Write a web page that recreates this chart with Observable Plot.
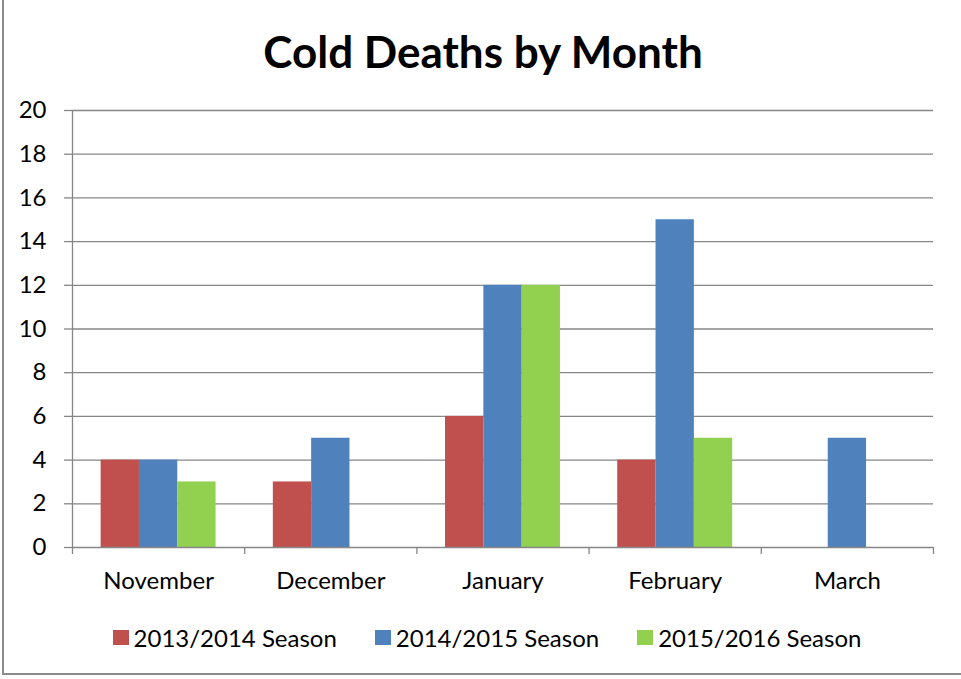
<!DOCTYPE html>
<html>
<head>
<meta charset="utf-8">
<script src="https://cdn.jsdelivr.net/npm/d3@7"></script>
<script src="https://cdn.jsdelivr.net/npm/@observablehq/plot@0.6"></script>
<style>
  html, body { margin: 0; padding: 0; background: #fff; }
  #frame { position: relative; width: 961px; height: 679px; overflow: hidden; font-family: Lato, sans-serif; }
  #border { position: absolute; left: 2px; top: -5px; width: 990px; height: 680px; border-left: 2px solid #8c8c8c; border-bottom: 2px solid #8c8c8c; box-sizing: border-box; }
  #title { position: absolute; left: 0; width: 966px; top: 25px; text-align: center; font-weight: bold; font-size: 44px; line-height: 52px; color: #000; }
  #chart { position: absolute; left: 0; top: 0; }
  #legend { position: absolute; left: 0; width: 974px; top: 623px; display: flex; justify-content: center; gap: 38px; font-size: 24px; line-height: 29px; color: #000; }
  .item { display: flex; align-items: center; gap: 5px; }
  .sw { width: 16px; height: 15px; display: inline-block; }
</style>
</head>
<body>
<div id="frame">
  <div id="border"></div>
  <div id="title">Cold Deaths by Month</div>
  <div id="chart"></div>
  <div id="legend"></div>
</div>
<script>
const months = ["November", "December", "January", "February", "March"];
const seasons = ["2013/2014 Season", "2014/2015 Season", "2015/2016 Season"];
const season2013 = [4, 3, 6, 4, null];
const season2014 = [4, 5, 12, 15, 5];
const season2015 = [3, null, 12, 5, null];
const colors = ["#C0504D", "#4F81BD", "#92D050"];
const yTicks = [0, 2, 4, 6, 8, 10, 12, 14, 16, 18, 20];

const seriesValues = [season2013, season2014, season2015];
const rows = [];
months.forEach((m, i) => {
  seriesValues.forEach((vals, j) => {
    if (vals[i] != null) rows.push({month: m, i, j, season: seasons[j], value: vals[i]});
  });
});

const barW = 0.2225;
const groupOff = 0.5 - 1.5 * barW;
const boundaries = d3.range(0, months.length + 1);
const centers = months.map((m, i) => i + 0.5);
const grid = "#868686";

const chart = Plot.plot({
  width: 961,
  height: 679,
  marginLeft: 72,
  marginRight: 28,
  marginTop: 110,
  marginBottom: 132,
  style: {fontFamily: "Lato, sans-serif", fontSize: "24px", color: "#000", background: "transparent"},
  x: {type: "linear", domain: [0, months.length], axis: null},
  y: {domain: [0, 20], axis: null},
  color: {domain: seasons, range: colors},
  marks: [
    Plot.gridY(yTicks.filter(d => d > 0), {stroke: grid, strokeOpacity: 1, strokeWidth: 1.3}),
    Plot.axisY(yTicks, {tickSize: 8, tickPadding: 18, stroke: grid, strokeWidth: 1.3, fill: "#000", label: null, fontSize: 24}),
    Plot.rectY(rows, {
      x1: d => d.i + groupOff + d.j * barW,
      x2: d => d.i + groupOff + (d.j + 1) * barW,
      y: "value",
      fill: "season"
    }),
    Plot.ruleY([0], {stroke: grid, strokeWidth: 1.3}),
    Plot.ruleX([0], {stroke: grid, strokeWidth: 1.3}),
    Plot.axisX(boundaries, {tickSize: 7, tickFormat: () => "", stroke: grid, strokeWidth: 1.3, label: null}),
    Plot.axisX(centers, {tickSize: 0, tickPadding: 24, tickFormat: d => months[Math.round(d - 0.5)], fill: "#000", label: null, fontSize: 24})
  ]
});
document.getElementById("chart").appendChild(chart);

const legend = document.getElementById("legend");
seasons.forEach((s, j) => {
  const it = document.createElement("div");
  it.className = "item";
  const sw = document.createElement("span");
  sw.className = "sw";
  sw.style.background = colors[j];
  const tx = document.createElement("span");
  tx.textContent = s;
  it.appendChild(sw);
  it.appendChild(tx);
  legend.appendChild(it);
});
</script>
</body>
</html>
